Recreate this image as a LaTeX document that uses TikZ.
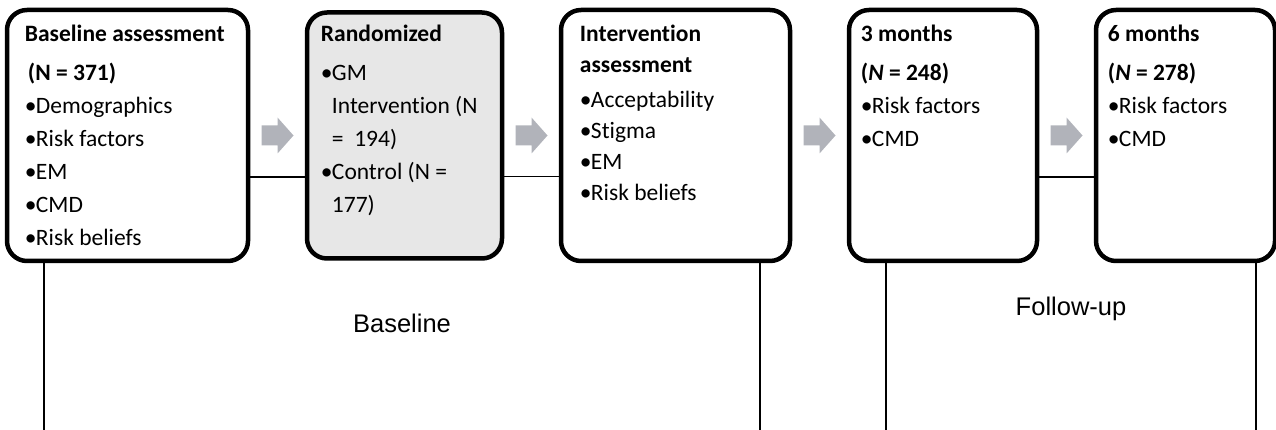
\documentclass[tikz,border=0pt]{standalone}
\usepackage{fontspec}
\setmainfont{Carlito}[Ligatures=CommonOff]
\newfontfamily\arialfont{Liberation Sans}
\usetikzlibrary{positioning, calc}

\definecolor{boxgray}{RGB}{231,231,231}
\definecolor{arrowgray}{RGB}{177,179,186}

\newcommand{\blt}{\makebox[11pt][l]{\textbullet}}
\newcommand{\hind}{\hspace*{11pt}}

\begin{document}
\begin{tikzpicture}[
  x=1pt, y=-1pt,
  node distance=54.5pt,
  stage/.style={draw, line width=4.5pt, rounded corners=20pt, minimum height=251pt, inner sep=0pt},
  stagetext/.style={anchor=north west, align=left, inner sep=0pt, font=\fontsize{23.5}{33}\selectfont},
  link/.style={line width=1.3pt},
  phase/.style={font=\arialfont\fontsize{25.5}{30}\selectfont, anchor=base}
]
\useasboundingbox (0,0) rectangle (1276,430);

% stage boxes
\node[stage, minimum width=241pt] (assess) at (127.5,135.5) {};
\node[stage, minimum width=195pt, minimum height=246pt, fill=boxgray, right=of assess] (rand) {};
\node[stage, minimum width=229pt, right=of rand] (interv) {};
\node[stage, minimum width=188pt, right=of interv] (three) {};
\node[stage, minimum width=179pt, right=of three] (six) {};

% box contents
\node[stagetext] (assesstxt) at ($(assess.north west)+(20,17)$)
  {\textbf{Baseline assessment}\\[6pt]
   \textbf{\hspace*{3pt}(N = 371)}\\
   \blt Demographics\\ \blt Risk factors\\ \blt EM\\ \blt CMD\\ \blt Risk beliefs};
\node[stagetext] (randtxt) at ($(rand.north west)+(16,15)$)
  {\textbf{Randomized}\\[6pt]
   \blt GM\\ \hind Intervention (N\\ \hind = \ 194)\\
   \blt Control (N =\\ \hind 177)};
\node[stagetext, font=\fontsize{23.5}{31}\selectfont] (intervtxt) at ($(interv.north west)+(21,17)$)
  {\textbf{Intervention}\\ \textbf{assessment}\\[4pt]
   \blt Acceptability\\ \blt Stigma\\ \blt EM\\ \blt Risk beliefs};
\node[stagetext] (threetxt) at ($(three.north west)+(14,17)$)
  {\textbf{3 months}\\[6pt]
   \textbf{(\textit{N} = 248)}\\
   \blt Risk factors\\ \blt CMD};
\node[stagetext] (sixtxt) at ($(six.north west)+(14,17)$)
  {\textbf{6 months}\\[6pt]
   \textbf{(\textit{N} = 278)}\\
   \blt Risk factors\\ \blt CMD};

% arrows between stages
\coordinate (go1) at ($(assess.east)!.5!(rand.west)$);
\coordinate (go2) at ($(rand.east)!.5!(interv.west)$);
\coordinate (go3) at ($(interv.east)!.5!(three.west)$);
\coordinate (go4) at ($(three.east)!.5!(six.west)$);
\foreach \g in {go1,go2,go3,go4}
  \fill[arrowgray] (\g) ++(-16,-10) -- ++(16,0) -- ++(0,-8) -- ++(16,18)
    -- ++(-16,18) -- ++(0,-8) -- ++(-16,0) -- cycle;

% joining lines
\draw[link] ([yshift=-41.5pt]assess.east) -- ([yshift=-41.5pt]assess.east -| rand.west);
\draw[link] ([yshift=-41pt]rand.east) -- ([yshift=-41pt]rand.east -| interv.west);
\draw[link] ([yshift=-41.5pt]three.east) -- ([yshift=-41.5pt]three.east -| six.west);

% phase brackets
\coordinate (endA) at (44,430);
\coordinate (endB) at (760,430);
\coordinate (endC) at (886,430);
\coordinate (endD) at (1256,430);
\draw[link] (assess.south -| endA) -- (endA);
\draw[link] (interv.south -| endB) -- (endB);
\draw[link] (three.south -| endC) -- (endC);
\draw[link] (six.south -| endD) -- (endD);

\node[phase] (baselbl) at ($(endA)!.5!(endB)+(0,-98)$) {Baseline};
\node[phase] (followlbl) at ($(endC)!.5!(endD)+(0,-115)$) {Follow-up};
\end{tikzpicture}
\end{document}
